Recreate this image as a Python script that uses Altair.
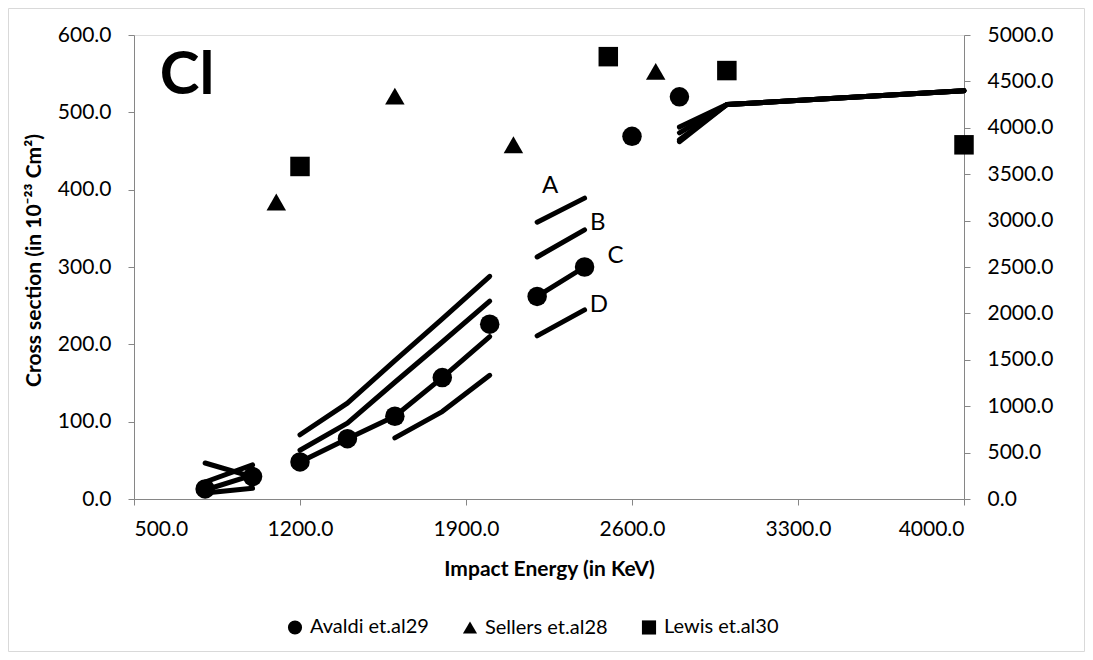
import altair as alt
import pandas as pd

# ---- theoretical curves (secondary axis, 0-5000) ----
energy = [800, 1000, 1200, 1400, 1600, 1800, 2000, 2200, 2400, 2800, 3000, 4000]
segment = [1, 1, 2, 2, 2, 2, 2, 3, 3, 4, 4, 4]
theory_A = [183, 367, 692, 1033, 1492, 1942, 2400, 2983, 3242, 4008, 4250, 4400]
theory_B = [388, 238, 525, 817, 1258, 1692, 2133, 2608, 2900, 3946, 4250, 4400]
theory_C = [97, 258, 400, 650, 892, 1308, 1750, 2183, 2500, 3871, 4250, 4400]
theory_D = [65, 117, None, None, 658, 942, 1333, 1758, 2038, 3850, 4250, 4400]

# ---- experimental points (primary axis, 0-600) ----
avaldi_energy = [800, 1000, 1200, 1400, 1600, 1800, 2000, 2200, 2400, 2600, 2800]
avaldi_cs = [13, 29, 48, 78, 107, 157, 226, 262, 300, 469, 520]
sellers_energy = [1100, 1600, 2100, 2700]
sellers_cs = [384, 521, 458, 553]
lewis_energy = [1200, 2500, 3000, 4000]
lewis_cs = [430, 572, 554, 458]

series_names = ["Avaldi et.al29", "Sellers et.al28", "Lewis et.al30"]
series_shapes = ["circle", "triangle-up", "square"]

# ---- curve labels ----
label_text = ["A", "B", "C", "D"]
label_energy = [2255, 2456, 2530, 2460]
label_value = [3370, 2971, 2618, 2090]

x_ticks = [500, 1200, 1900, 2600, 3300, 4000]
left_ticks = [0, 100, 200, 300, 400, 500, 600]
right_ticks = [0, 500, 1000, 1500, 2000, 2500, 3000, 3500, 4000, 4500, 5000]

FONT = "Lato"
AX = "#868686"
LBL = 21

rows = []
for name, vals in zip(label_text, [theory_A, theory_B, theory_C, theory_D]):
    for e, s, v in zip(energy, segment, vals):
        if v is not None:
            rows.append({"energy": e, "value": v, "key": f"{name}-{s}"})
lines_df = pd.DataFrame(rows)

pts = []
for name, es, cs in zip(series_names,
                        [avaldi_energy, sellers_energy, lewis_energy],
                        [avaldi_cs, sellers_cs, lewis_cs]):
    for e, c in zip(es, cs):
        pts.append({"energy": e, "cs": c, "source": name})
pts_df = pd.DataFrame(pts)

labels_df = pd.DataFrame({"energy": label_energy, "value": label_value, "t": label_text})

x_enc = alt.X(
    "energy:Q",
    scale=alt.Scale(domain=[500, 4000], nice=False, zero=False),
    axis=alt.Axis(
        values=x_ticks, format=".1f", title="Impact Energy (in KeV)",
        grid=False, domainColor=AX, tickColor=AX, tickSize=6, labelPadding=13,
        labelFontSize=LBL, labelColor="black", labelFont=FONT,
        titleFont=FONT, titleFontSize=21, titleFontWeight="bold", titleColor="black",
        titleX=415, titleY=70, titleBaseline="middle", titleAlign="center",
    ),
)

right_scale = alt.Scale(domain=[0, 5000], nice=False)
right_axis = alt.Axis(
    orient="right", values=right_ticks, format=".1f", title=None, grid=False,
    domainColor=AX, tickColor=AX, tickSize=6, labelPadding=17,
    labelFontSize=LBL, labelColor="black", labelFont=FONT,
)

lines = alt.Chart(lines_df).mark_line(
    color="black", strokeWidth=5, strokeCap="round", strokeJoin="round"
).encode(
    x=x_enc,
    y=alt.Y("value:Q", scale=right_scale, axis=right_axis),
    detail="key:N",
)

curve_labels = alt.Chart(labels_df).mark_text(
    font=FONT, fontSize=24, color="black", align="center", baseline="middle"
).encode(
    x=x_enc,
    y=alt.Y("value:Q", scale=right_scale, axis=right_axis),
    text="t:N",
)

right_layer = alt.layer(lines, curve_labels)

points = alt.Chart(pts_df).mark_point(
    filled=True, color="black", size=380, opacity=1
).encode(
    x=x_enc,
    y=alt.Y(
        "cs:Q",
        scale=alt.Scale(domain=[0, 600], nice=False),
        axis=alt.Axis(
            orient="left", values=left_ticks, format=".1f",
            title="Cross section (in 10⁻²³ Cm²)", grid=False,
            domainColor=AX, tickColor=AX, tickSize=6, labelPadding=17,
            labelFontSize=LBL, labelColor="black", labelFont=FONT,
            titleFont=FONT, titleFontSize=21, titleFontWeight="bold", titleColor="black",
            titleAngle=270, titleX=-100, titleY=225, titleAlign="center",
            titleBaseline="middle",
        ),
    ),
    shape=alt.Shape(
        "source:N",
        scale=alt.Scale(domain=series_names, range=series_shapes),
        legend=alt.Legend(
            orient="none", legendX=151, legendY=582, direction="horizontal",
            title=None, labelFont=FONT, labelFontSize=20, labelColor="black",
            symbolSize=200, symbolFillColor="black", symbolStrokeColor="black",
            symbolOpacity=1, labelOffset=5, columnPadding=30, padding=0,
        ),
    ),
)

cl_text = alt.Chart(pd.DataFrame({"t": ["Cl"]})).mark_text(
    font=FONT, fontSize=60, fontWeight="bold", color="black",
    align="center", baseline="middle",
).encode(x=alt.value(53), y=alt.value(41), text="t:N")

frame = alt.Chart(pd.DataFrame({"a": [0]})).mark_rect(
    fillOpacity=0, stroke="#d9d9d9", strokeWidth=1
).encode(
    x=alt.value(-125.5), x2=alt.value(950.5), y=alt.value(-26.5), y2=alt.value(616.5)
)

chart = alt.layer(frame, right_layer, points, cl_text).resolve_scale(
    y="independent"
).properties(
    width=830, height=464,
    autosize=alt.AutoSizeParams(type="none"),
    padding={"left": 126, "top": 27, "right": 121, "bottom": 153},
).configure_view(stroke=None).configure(font=FONT)

chart.save("out.html", embed_options={"renderer": "svg", "actions": False})
